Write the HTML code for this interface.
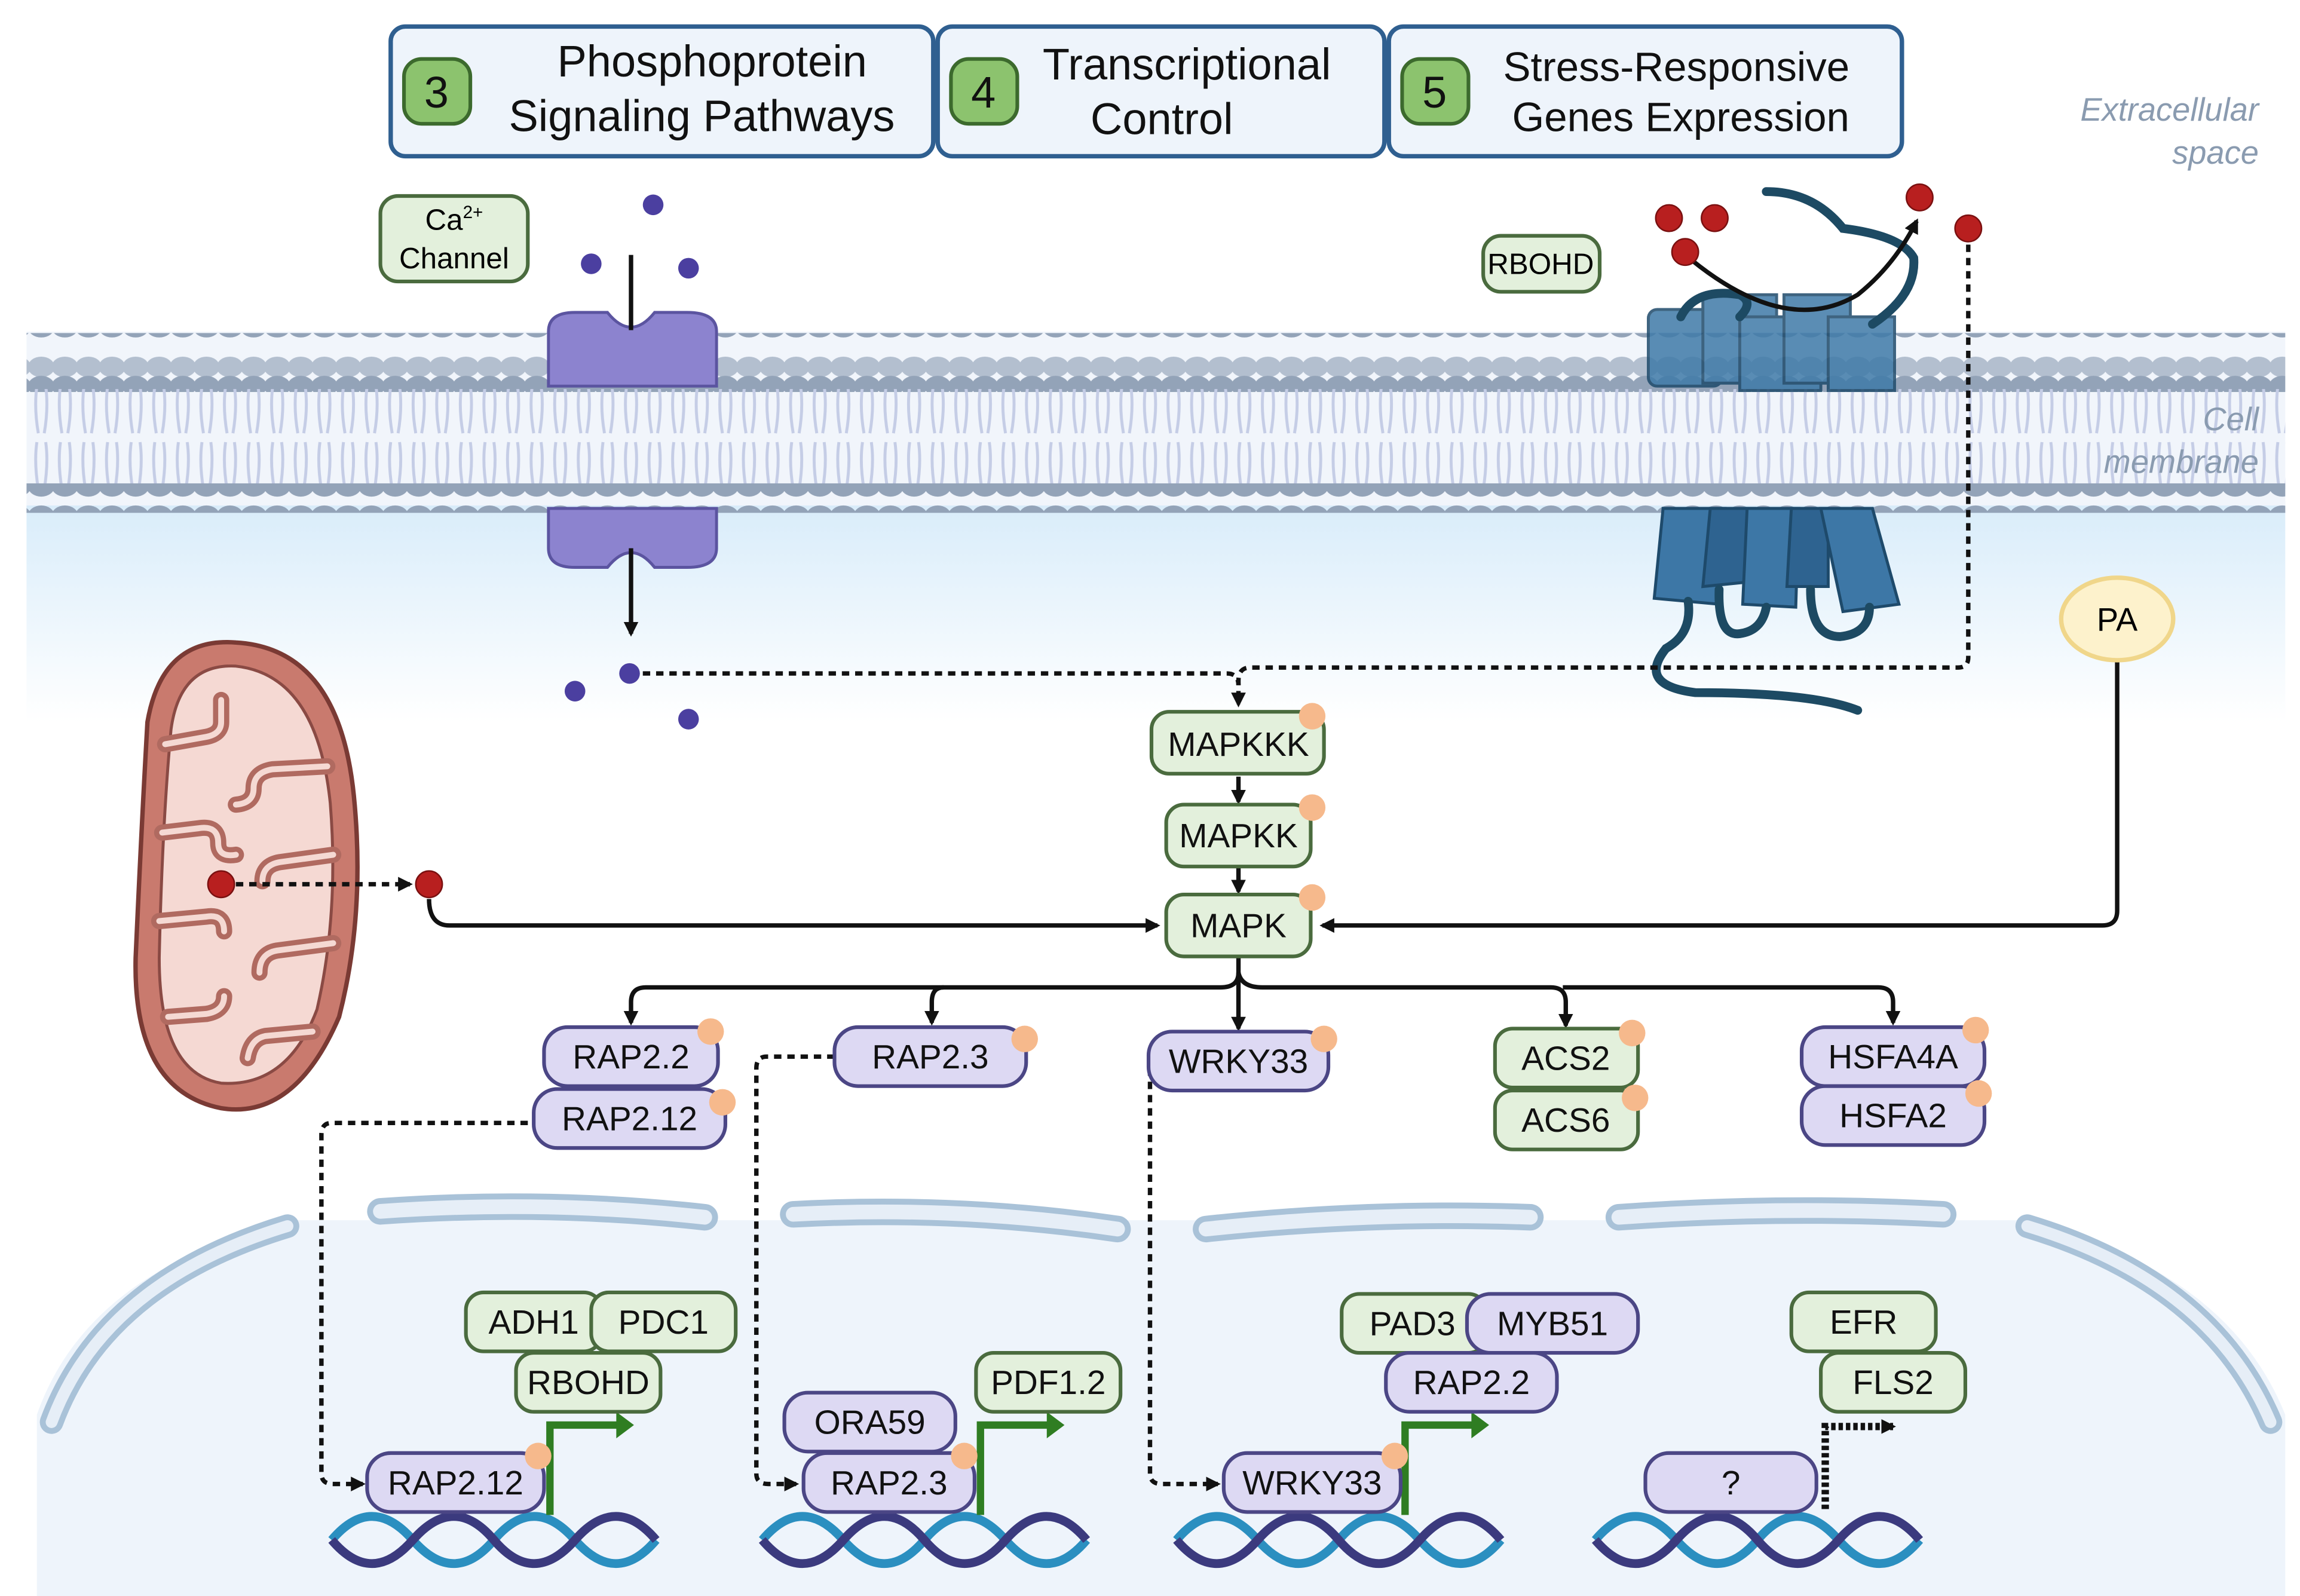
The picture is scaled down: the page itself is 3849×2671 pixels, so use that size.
<!DOCTYPE html>
<html><head><meta charset="utf-8"><style>
html,body{margin:0;padding:0;background:#fff}
svg{display:block}
text{font-family:"Liberation Sans",sans-serif}
</style></head><body>
<svg width="3849" height="2671" viewBox="0 0 1560 1083" preserveAspectRatio="none" xmlns="http://www.w3.org/2000/svg">
<defs>
<linearGradient id="cyto" x1="0" y1="0" x2="0" y2="1">
<stop offset="0" stop-color="#d8ecfa"/><stop offset="1" stop-color="#ffffff"/></linearGradient>
<pattern id="heads" x="20" y="0" width="16" height="40" patternUnits="userSpaceOnUse">
<ellipse cx="8" cy="9" rx="9" ry="7" fill="#b3bfcf"/>
<ellipse cx="8" cy="22" rx="9" ry="7" fill="#93a3b8"/>
</pattern>
<pattern id="tails" x="20" y="262" width="16" height="70" patternUnits="userSpaceOnUse">
<path d="M5 0 Q3 15 6 32 M11 0 Q13 15 10 32 M5 38 Q3 52 6 70 M11 38 Q13 52 10 70" stroke="#c5cde6" stroke-width="2" fill="none"/>
</pattern>
<pattern id="bheads" x="20" y="0" width="16" height="20" patternUnits="userSpaceOnUse">
<ellipse cx="8" cy="10" rx="9" ry="7" fill="#93a3b8"/>
</pattern>
<marker id="ah" markerWidth="10" markerHeight="10" refX="8" refY="5" orient="auto" markerUnits="userSpaceOnUse"><path d="M0 0 L10 5 L0 10 Z" fill="#111"/></marker>
</defs>
<rect width="1560" height="1083" fill="#fff"/>
<rect x="18" y="340" width="1532" height="150" fill="url(#cyto)"/>
<!-- membrane -->
<rect x="18" y="225" width="1532" height="118" fill="#f1f5fb"/>
<rect x="18" y="226" width="1532" height="40" fill="url(#heads)"/>
<rect x="18" y="264" width="1532" height="68" fill="url(#tails)"/>
<rect x="18" y="328" width="1532" height="20" fill="url(#bheads)"/>
<text x="1532" y="82" font-size="22" font-style="italic" fill="#8a9bb0" text-anchor="end">Extracellular</text>
<text x="1532" y="111" font-size="22" font-style="italic" fill="#8a9bb0" text-anchor="end">space</text>
<text x="1532" y="292" font-size="22" font-style="italic" fill="#8a9bb0" text-anchor="end">Cell</text>
<text x="1532" y="321" font-size="22" font-style="italic" fill="#8a9bb0" text-anchor="end">membrane</text>

<!-- nucleus -->
<path d="M25 1083 L25 960 Q60 860 200 828 L1370 828 Q1510 860 1550 960 L1550 1083 Z" fill="#eef4fb"/>
<g fill="none" stroke-linecap="round">
<path d="M35 965 Q70 870 195 832" stroke="#a9c2d8" stroke-width="16"/>
<path d="M35 965 Q70 870 195 832" stroke="#e6eef7" stroke-width="8"/>
<path d="M1375 832 Q1500 870 1540 965" stroke="#a9c2d8" stroke-width="16"/>
<path d="M1375 832 Q1500 870 1540 965" stroke="#e6eef7" stroke-width="8"/>
<g stroke="#a9c2d8" stroke-width="18">
<path d="M258 822 Q370 814 478 826"/><path d="M538 824 Q650 818 758 834"/><path d="M818 834 Q930 822 1038 826"/><path d="M1098 826 Q1210 818 1318 824"/></g>
<g stroke="#e6eef7" stroke-width="10">
<path d="M258 822 Q370 814 478 826"/><path d="M538 824 Q650 818 758 834"/><path d="M818 834 Q930 822 1038 826"/><path d="M1098 826 Q1210 818 1318 824"/></g>
</g>

<!-- header boxes -->
<g stroke="#2f5f90" stroke-width="3" fill="#eef4fb">
<rect x="265" y="18" width="368" height="88" rx="10"/>
<rect x="636" y="18" width="303" height="88" rx="10"/>
<rect x="942" y="18" width="348" height="88" rx="10"/>
</g>
<g fill="#8cc36e" stroke="#3c6a2d" stroke-width="2.5">
<rect x="274" y="40" width="45" height="44" rx="12"/>
<rect x="645" y="40" width="45" height="44" rx="12"/>
<rect x="951" y="40" width="45" height="44" rx="12"/>
</g>
<g font-size="30" fill="#111" text-anchor="middle">
<text x="296" y="73">3</text><text x="667" y="73">4</text><text x="973" y="73">5</text>
<text x="483" y="52">Phosphoprotein</text><text x="476" y="89">Signaling Pathways</text>
<text x="805" y="54">Transcriptional</text><text x="788" y="91">Control</text>
<text x="1137" y="55" font-size="28">Stress-Responsive</text><text x="1140" y="89" font-size="28">Genes Expression</text>
</g>

<!-- Ca channel -->
<rect x="258" y="133" width="100" height="58" rx="12" fill="#e3f0dc" stroke="#4a6b3e" stroke-width="2.5"/>
<text x="308" y="156" font-size="20" text-anchor="middle">Ca<tspan font-size="12" dy="-8">2+</tspan></text>
<text x="308" y="182" font-size="20" text-anchor="middle">Channel</text>
<g fill="#8c83cf" stroke="#5b54a0" stroke-width="2">
<path d="M372 225 Q372 212 390 212 L412 212 Q420 222 428 222 Q436 222 444 212 L466 212 Q486 212 486 225 L486 262 L372 262 Z"/>
<path d="M372 345 L486 345 L486 372 Q486 385 466 385 L444 385 Q436 375 428 375 Q420 375 412 385 L390 385 Q372 385 372 372 Z"/>
</g>
<line x1="428" y1="173" x2="428" y2="224" stroke="#111" stroke-width="3"/>
<line x1="428" y1="372" x2="428" y2="430" stroke="#111" stroke-width="3" marker-end="url(#ah)"/>
<g fill="#4b3fa0">
<circle cx="443" cy="139" r="7"/><circle cx="401" cy="179" r="7"/><circle cx="467" cy="182" r="7"/>
<circle cx="390" cy="469" r="7"/><circle cx="427" cy="457" r="7"/><circle cx="467" cy="488" r="7"/></g>

<!-- RBOHD receptor -->
<rect x="1006" y="160" width="79" height="38" rx="12" fill="#e3f0dc" stroke="#4a6b3e" stroke-width="2.5"/>
<text x="1045" y="186" font-size="20" text-anchor="middle">RBOHD</text>
<g fill="#3f7aa8" stroke="#1e4a6b" stroke-width="2" opacity="0.85">
<rect x="1118" y="210" width="50" height="52" rx="6"/><rect x="1155" y="200" width="50" height="60"/>
<rect x="1180" y="215" width="55" height="50"/><rect x="1210" y="200" width="45" height="60"/><rect x="1240" y="215" width="45" height="50"/></g>
<g fill="#3d77a6" stroke="#1e4a6b" stroke-width="2">
<path d="M1128 345 L1170 345 L1166 410 L1122 406 Z"/><path d="M1160 345 L1190 345 L1185 395 L1155 398 Z" fill="#2e6390"/>
<path d="M1185 345 L1220 345 L1218 412 L1182 410 Z"/><path d="M1215 345 L1240 345 L1240 398 L1212 398 Z" fill="#2e6390"/>
<path d="M1235 345 L1270 345 L1288 410 L1250 415 Z"/></g>
<g fill="none" stroke="#1d4a63" stroke-width="6" stroke-linecap="round">
<path d="M1145 408 Q1148 430 1130 440 Q1110 465 1150 470 Q1230 470 1260 482"/>
<path d="M1166 400 Q1165 432 1180 430 Q1195 428 1198 412"/><path d="M1228 400 Q1228 432 1248 432 Q1268 430 1268 412"/>
<path d="M1198 130 Q1230 130 1250 155 Q1290 160 1298 175 Q1300 200 1270 220"/>
<path d="M1140 215 Q1150 195 1180 200 Q1190 205 1180 215"/>
</g>
<path d="M1142 172 Q1210 230 1260 200 Q1285 180 1300 150" fill="none" stroke="#111" stroke-width="3" marker-end="url(#ah)"/>
<g fill="#b81f1f" stroke="#7a1010" stroke-width="1">
<circle cx="1132" cy="148" r="9"/><circle cx="1163" cy="148" r="9"/><circle cx="1143" cy="171" r="9"/>
<circle cx="1302" cy="134" r="9"/><circle cx="1335" cy="155" r="9"/><circle cx="291" cy="600" r="9"/></g>

<!-- mitochondrion -->
<path d="M160 436 Q230 440 240 540 Q248 620 230 690 Q200 760 150 752 Q90 740 92 650 Q96 560 100 490 Q110 432 160 436 Z" fill="#c97a6e" stroke="#7a3a34" stroke-width="3"/>
<path d="M160 452 Q215 458 224 545 Q230 620 215 685 Q195 738 150 735 Q108 728 108 650 Q110 560 116 495 Q122 450 160 452 Z" fill="#f5d9d3" stroke="#8a4a44" stroke-width="2"/>
<g fill="none" stroke-linecap="round" stroke-linejoin="round">
<g stroke="#b06a60" stroke-width="11">
<path d="M112 505 L140 500 Q150 498 150 490 L150 475"/>
<path d="M222 520 L185 522 Q172 524 172 535 Q172 545 160 546"/>
<path d="M110 565 L135 562 Q148 560 148 572 Q148 582 160 580"/>
<path d="M226 580 L190 585 Q178 587 178 598"/>
<path d="M108 625 L140 622 Q152 620 152 632"/>
<path d="M226 640 L188 645 Q176 647 176 660"/>
<path d="M114 690 L140 688 Q152 686 152 676"/>
<path d="M212 700 L180 703 Q170 705 168 718"/>
</g>
<g stroke="#f5d9d3" stroke-width="4">
<path d="M112 505 L140 500 Q150 498 150 490 L150 475"/>
<path d="M222 520 L185 522 Q172 524 172 535 Q172 545 160 546"/>
<path d="M110 565 L135 562 Q148 560 148 572 Q148 582 160 580"/>
<path d="M226 580 L190 585 Q178 587 178 598"/>
<path d="M108 625 L140 622 Q152 620 152 632"/>
<path d="M226 640 L188 645 Q176 647 176 660"/>
<path d="M114 690 L140 688 Q152 686 152 676"/>
<path d="M212 700 L180 703 Q170 705 168 718"/>
</g></g>
<circle cx="150" cy="600" r="9" fill="#b81f1f" stroke="#7a1010"/>

<!-- dashed connectors -->
<g fill="none" stroke="#111" stroke-width="3" stroke-dasharray="5 4">
<path d="M1335 166 L1335 446 Q1335 453 1328 453 L848 453 Q840 453 840 462 L840 478" marker-end="url(#ah)"/>
<path d="M436 457 L832 457 Q840 457 840 465"/>
<path d="M160 600 L278 600" marker-end="url(#ah)"/>
<path d="M358 762 L225 762 Q218 762 218 770 L218 1000 Q218 1007 226 1007 L246 1007" marker-end="url(#ah)"/>
<path d="M566 717 L520 717 Q513 717 513 725 L513 1000 Q513 1007 521 1007 L540 1007" marker-end="url(#ah)"/>
<path d="M780 725 L780 1000 Q780 1007 788 1007 L826 1007" marker-end="url(#ah)"/>
</g>
<path d="M1238 1024 L1238 968 L1284 968" fill="none" stroke="#111" stroke-width="5" stroke-dasharray="3 2" marker-end="url(#ah)"/>

<!-- solid connectors -->
<g fill="none" stroke="#111" stroke-width="3">
<path d="M291 610 Q291 628 305 628 L785 628" marker-end="url(#ah)"/>
<path d="M1436 448 L1436 618 Q1436 628 1426 628 L897 628" marker-end="url(#ah)"/>
<path d="M840 527 L840 544" marker-end="url(#ah)"/><path d="M840 588 L840 605" marker-end="url(#ah)"/>
<path d="M840 650 L840 698" marker-end="url(#ah)"/>
<path d="M840 660 Q840 670 828 670 L438 670 Q428 670 428 680 L428 694" marker-end="url(#ah)"/>
<path d="M640 670 Q632 670 632 680 L632 694" marker-end="url(#ah)"/>
<path d="M840 660 Q842 670 856 670 L1052 670 Q1062 670 1062 680 L1062 696" marker-end="url(#ah)"/>
<path d="M1060 670 L1274 670 Q1284 670 1284 680 L1284 694" marker-end="url(#ah)"/>
</g>
<ellipse cx="1436" cy="420" rx="38" ry="28" fill="#fdf2cc" stroke="#f0d68a" stroke-width="3"/>
<text x="1436" y="428" font-size="22" text-anchor="middle">PA</text>

<!-- DNA -->
<g fill="none" stroke-width="6">
<g id="dna">
<path d="M225 1045 q27 -32 55 0 t55 0 t55 0 t55 0" stroke="#2b8fc0"/>
<path d="M225 1045 q27 32 55 0 t55 0 t55 0 t55 0" stroke="#3b3a7e"/>
</g>
<use href="#dna" x="292"/><use href="#dna" x="573"/><use href="#dna" x="857"/>
</g>

<!-- green promoter arrows -->
<g fill="none" stroke="#2f7d22" stroke-width="5">
<path d="M373 1028 L373 967 L420 967"/><path d="M665 1028 L665 967 L712 967"/><path d="M953 1028 L953 967 L1000 967"/></g>
<g fill="#2f7d22"><path d="M418 958 L430 967 L418 976 Z"/><path d="M710 958 L722 967 L710 976 Z"/><path d="M998 958 L1010 967 L998 976 Z"/></g>

<!-- nodes -->
<g font-size="23" text-anchor="middle" fill="#111" stroke-width="2.5">
<g fill="#e3f0dc" stroke="#4a6b3e">
<rect x="781" y="483" width="117" height="42" rx="12"/><rect x="791" y="546" width="98" height="42" rx="12"/><rect x="791" y="607" width="98" height="42" rx="12"/>
<rect x="1014" y="698" width="97" height="40" rx="12"/><rect x="1014" y="740" width="97" height="40" rx="12"/>
<rect x="316" y="877" width="92" height="40" rx="12"/><rect x="401" y="877" width="98" height="40" rx="12"/><rect x="350" y="918" width="98" height="40" rx="12"/>
<rect x="662" y="918" width="98" height="40" rx="12"/>
<rect x="910" y="878" width="98" height="40" rx="12"/>
<rect x="1215" y="877" width="98" height="40" rx="12"/><rect x="1235" y="918" width="98" height="40" rx="12"/>
</g>
<g fill="#ddd9f3" stroke="#4b4685">
<rect x="369" y="697" width="118" height="40" rx="16"/><rect x="362" y="739" width="130" height="40" rx="16"/>
<rect x="566" y="697" width="130" height="40" rx="16"/>
<rect x="779" y="700" width="122" height="40" rx="16"/>
<rect x="1222" y="697" width="124" height="40" rx="16"/><rect x="1222" y="737" width="124" height="40" rx="16"/>
<rect x="995" y="878" width="116" height="40" rx="16"/><rect x="940" y="918" width="116" height="40" rx="16"/>
<rect x="532" y="945" width="116" height="40" rx="16"/>
<rect x="249" y="986" width="120" height="40" rx="16"/><rect x="545" y="986" width="116" height="40" rx="16"/><rect x="830" y="986" width="120" height="40" rx="16"/>
<rect x="1116" y="986" width="116" height="40" rx="16"/>
</g>
<g stroke="none">
<text x="840" y="513">MAPKKK</text><text x="840" y="575">MAPKK</text><text x="840" y="636">MAPK</text>
<text x="1062" y="726">ACS2</text><text x="1062" y="768">ACS6</text>
<text x="362" y="905">ADH1</text><text x="450" y="905">PDC1</text><text x="399" y="946">RBOHD</text>
<text x="711" y="946">PDF1.2</text><text x="958" y="906">PAD3</text>
<text x="1264" y="905">EFR</text><text x="1284" y="946">FLS2</text>
<text x="428" y="725">RAP2.2</text><text x="427" y="767">RAP2.12</text><text x="631" y="725">RAP2.3</text>
<text x="840" y="728">WRKY33</text><text x="1284" y="725">HSFA4A</text><text x="1284" y="765">HSFA2</text>
<text x="1053" y="906">MYB51</text><text x="998" y="946">RAP2.2</text><text x="590" y="973">ORA59</text>
<text x="309" y="1014">RAP2.12</text><text x="603" y="1014">RAP2.3</text><text x="890" y="1014">WRKY33</text><text x="1174" y="1014">?</text>
</g>
</g>
<g fill="#f6b98c">
<circle cx="890" cy="486" r="9"/><circle cx="890" cy="548" r="9"/><circle cx="890" cy="609" r="9"/>
<circle cx="482" cy="700" r="9"/><circle cx="490" cy="748" r="9"/><circle cx="695" cy="705" r="9"/><circle cx="898" cy="705" r="9"/>
<circle cx="1107" cy="701" r="9"/><circle cx="1109" cy="745" r="9"/><circle cx="1340" cy="699" r="9"/><circle cx="1342" cy="742" r="9"/>
<circle cx="365" cy="988" r="9"/><circle cx="654" cy="988" r="9"/><circle cx="946" cy="988" r="9"/>
</g>
</svg>
</body></html>
